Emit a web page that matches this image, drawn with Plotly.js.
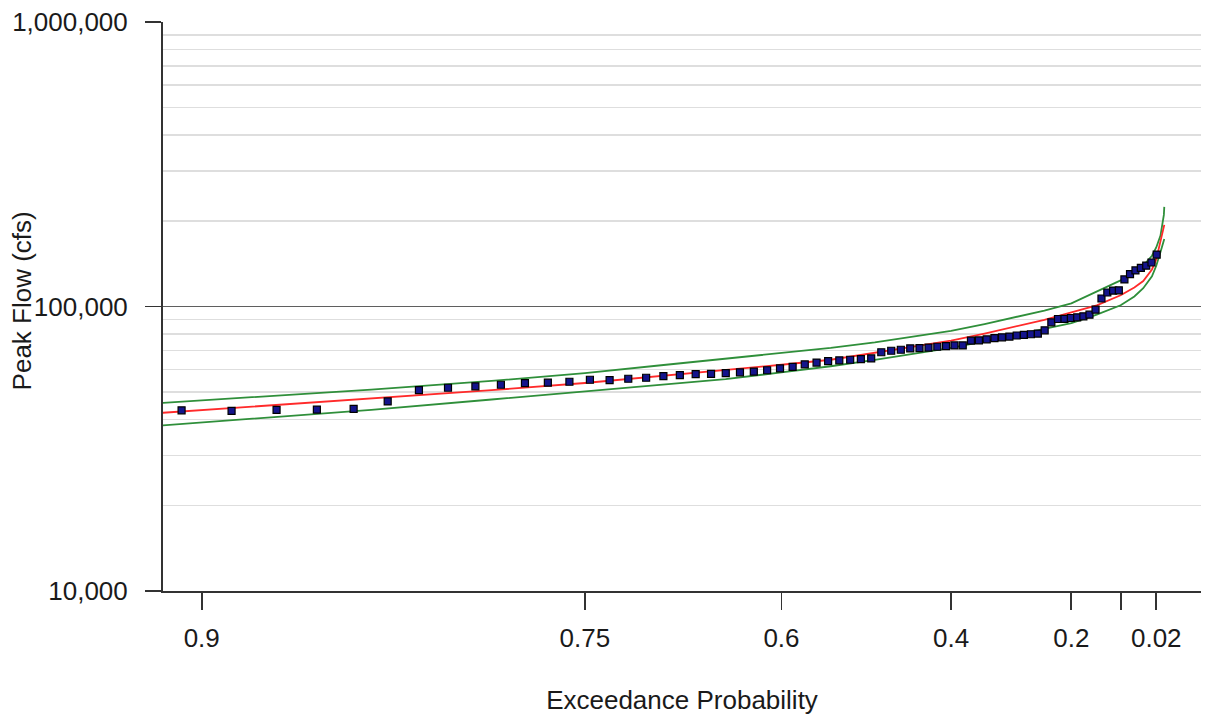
<!DOCTYPE html>
<html>
<head>
<meta charset="utf-8">
<script src="https://cdn.plot.ly/plotly-3.0.1.min.js"></script>
<style>
  html, body { margin: 0; padding: 0; background: #ffffff; }
  #chart { width: 1211px; height: 715px; }
</style>
</head>
<body>
<div id="chart"></div>
<script>
// Observed annual peaks: exceedance probability (plotting position) and peak flow (cfs)
const obsExceedance = [
  0.9047, 0.8926, 0.8804, 0.8683, 0.8562, 0.8440, 0.8319, 0.8198, 0.8076, 0.7955,
  0.7834, 0.7712, 0.7591, 0.7470, 0.7348, 0.7227, 0.7106, 0.6984, 0.6863, 0.6742,
  0.6620, 0.6499, 0.6378, 0.6256, 0.6135, 0.6014, 0.5892, 0.5771, 0.5650, 0.5528,
  0.5407, 0.5286, 0.5164, 0.5043, 0.4922, 0.4800, 0.4679, 0.4558, 0.4436, 0.4315,
  0.4194, 0.4072, 0.3951, 0.3830, 0.3708, 0.3587, 0.3466, 0.3344, 0.3223, 0.3102,
  0.2980, 0.2859, 0.2738, 0.2616, 0.2495, 0.2374, 0.2252, 0.2131, 0.2010, 0.1888,
  0.1767, 0.1646, 0.1524, 0.1403, 0.1282, 0.1160, 0.1039, 0.0918, 0.0796, 0.0675,
  0.0554, 0.0432, 0.0311, 0.0190
];
const obsPeakFlow = [
  43160, 42990, 43340, 43410, 43690, 46380, 50850, 51810, 52400, 53080,
  53810, 53990, 54390, 55270, 55140, 55720, 56170, 56950, 57410, 57880,
  58010, 58340, 58720, 59060, 59690, 60600, 61350, 62600, 63530, 64290,
  64670, 64980, 65360, 65720, 69060, 69910, 70470, 71270, 71450, 71730,
  72210, 72610, 72960, 72960, 75860, 76050, 76670, 77360, 77920, 78420,
  79070, 79510, 79900, 80350, 82470, 88000, 90360, 90510, 91100, 91620,
  92370, 93570, 97430, 106700, 112000, 113800, 114000, 124500, 129900, 133900,
  136600, 139200, 142800, 152200
];

// Frequency curve and confidence limits
const curveExceedance = [0.92, 0.9, 0.85, 0.8, 0.75, 0.7, 0.65, 0.6, 0.55, 0.5, 0.45, 0.4, 0.35,
  0.3, 0.25, 0.2, 0.15, 0.1, 0.07, 0.05, 0.03, 0.02, 0.01, 0.005, 0.002, 0.001];
const computedCurve = [41050, 43200, 47420, 50800, 53850, 56910, 59600, 62410, 64980, 68780,
  72320, 75930, 80350, 85030, 89780, 95410, 100970, 109500, 116650, 122880, 134990, 146400,
  168200, 181400, 188900, 193600];
const upperLimit = [44590, 46770, 51010, 54730, 58300, 62170, 65610, 68730, 71510, 74820,
  78560, 82070, 86780, 91770, 96740, 102600, 112600, 123500, 131700, 139200, 150800, 161200,
  177500, 193600, 209900, 223900];
const lowerLimit = [36940, 39100, 43340, 47110, 50300, 53130, 55600, 58630, 61650, 64940,
  68290, 71510, 75370, 79510, 83480, 87420, 93570, 100970, 108500, 115900, 127700, 139100,
  155500, 163300, 168700, 172800];

// Axis ticks
const xTickProb = [0.9, 0.75, 0.6, 0.4, 0.2, 0.1, 0.02];
const xTickText = ['0.9', '0.75', '0.6', '0.4', '0.2', '', '0.02'];
const yTickVals = [10000, 100000, 1000000];
const yTickText = ['10,000', '100,000', '1,000,000'];
const yMinorVals = [20000, 30000, 40000, 50000, 60000, 70000, 80000, 90000,
  200000, 300000, 400000, 500000, 600000, 700000, 800000, 900000];

// The probability axis is a log scale of non-exceedance (1 - p)
const toAxis = arr => arr.map(p => 1 - p);

const green = '#2f8f3a';
const traces = [
  { x: toAxis(curveExceedance), y: upperLimit, mode: 'lines', type: 'scatter',
    line: { color: green, width: 1.8 }, name: '95% limit' },
  { x: toAxis(curveExceedance), y: lowerLimit, mode: 'lines', type: 'scatter',
    line: { color: green, width: 1.8 }, name: '5% limit' },
  { x: toAxis(curveExceedance), y: computedCurve, mode: 'lines', type: 'scatter',
    line: { color: '#ff2a2a', width: 1.8 }, name: 'Computed curve' },
  { x: toAxis(obsExceedance), y: obsPeakFlow, mode: 'markers', type: 'scatter',
    marker: { symbol: 'square', size: 7, color: '#14148c', line: { color: '#000000', width: 1.2 } },
    name: 'Observed' }
];

const fontFam = '"Liberation Sans", Arial, sans-serif';
const fs = 26;
const layout = {
  width: 1211, height: 715,
  margin: { l: 163, r: 10, t: 22, b: 124 },
  paper_bgcolor: '#ffffff', plot_bgcolor: '#ffffff',
  showlegend: false,
  font: { family: fontFam, size: fs, color: '#1a1a1a' },
  xaxis: {
    type: 'log',
    range: [-1.0402, 0.0377],
    tickmode: 'array',
    tickvals: toAxis(xTickProb),
    ticktext: xTickText,
    ticks: 'outside', ticklen: 17, tickwidth: 1.8, tickcolor: '#333333',
    showline: true, linecolor: '#333333', linewidth: 2,
    showgrid: false, zeroline: false,
    ticklabelstandoff: 6,
    tickfont: { family: fontFam, size: fs, color: '#1a1a1a' },
    title: { text: 'Exceedance Probability', font: { family: fontFam, size: fs, color: '#1a1a1a' }, standoff: 47 }
  },
  yaxis: {
    type: 'log',
    range: [4, 6],
    tickmode: 'array',
    tickvals: yTickVals,
    ticktext: yTickText,
    ticks: 'outside', ticklen: 16, tickwidth: 1.8, tickcolor: '#333333',
    showline: true, linecolor: '#333333', linewidth: 2,
    showgrid: true, gridcolor: '#5f5f5f', gridwidth: 1.5,
    zeroline: false,
    ticklabelstandoff: 12,
    minor: { tickmode: 'array', tickvals: yMinorVals, showgrid: true, gridcolor: '#dedede', gridwidth: 1.5, ticks: '' },
    tickfont: { family: fontFam, size: fs, color: '#1a1a1a' }
  },
  annotations: [{
    text: 'Peak Flow (cfs)', textangle: -90, showarrow: false,
    xref: 'paper', yref: 'paper', x: -0.1358, y: 0.509,
    xanchor: 'center', yanchor: 'middle',
    font: { family: fontFam, size: fs, color: '#1a1a1a' }
  }]
};

Plotly.newPlot('chart', traces, layout, { staticPlot: true, displayModeBar: false });
</script>
</body>
</html>
